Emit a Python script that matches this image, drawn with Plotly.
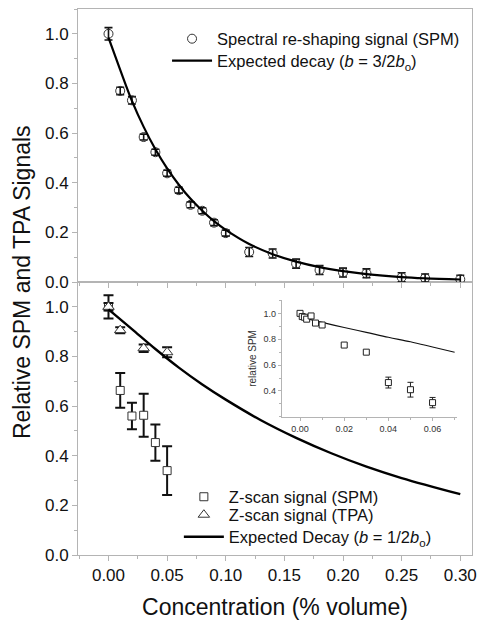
import plotly.graph_objects as go

# ---------------- data ----------------
# Top panel: spectral re-shaping signal (SPM)
x_spm = [0.00, 0.01, 0.02, 0.03, 0.04, 0.05, 0.06, 0.07, 0.08, 0.09, 0.10,
         0.12, 0.14, 0.16, 0.18, 0.20, 0.22, 0.25, 0.27, 0.30]
y_spm = [1.00, 0.77, 0.732, 0.584, 0.523, 0.438, 0.370, 0.311, 0.287, 0.239, 0.197,
         0.121, 0.115, 0.074, 0.048, 0.038, 0.035, 0.019, 0.016, 0.011]
e_spm = [0.025, 0.015, 0.015, 0.012, 0.012, 0.012, 0.012, 0.012, 0.012, 0.012, 0.012,
         0.018, 0.018, 0.018, 0.018, 0.018, 0.018, 0.018, 0.016, 0.016]

# Top panel: expected decay curve (b = 3/2 b_o)
x_fit_top = [0.00, 0.01, 0.02, 0.03, 0.04, 0.05, 0.06, 0.07, 0.08, 0.09, 0.10,
             0.12, 0.14, 0.16, 0.18, 0.20, 0.22, 0.25, 0.27, 0.30]
y_fit_top = [0.985, 0.855, 0.730, 0.625, 0.535, 0.458, 0.392, 0.335, 0.287, 0.245, 0.210,
             0.153, 0.112, 0.082, 0.060, 0.044, 0.032, 0.020, 0.015, 0.010]

# Bottom panel: Z-scan signal (SPM)
x_zs = [0.00, 0.01, 0.02, 0.03, 0.04, 0.05]
y_zs = [1.00, 0.663, 0.560, 0.563, 0.453, 0.340]
e_zs = [0.047, 0.070, 0.053, 0.087, 0.073, 0.098]

# Bottom panel: Z-scan signal (TPA)
x_zt = [0.00, 0.01, 0.03, 0.05]
y_zt = [1.00, 0.906, 0.833, 0.817]
e_zt = [0.015, 0.012, 0.015, 0.020]

# Bottom panel: expected decay (b = 1/2 b_o)
x_fit_bot = [0.00, 0.02, 0.04, 0.06, 0.08, 0.10, 0.13, 0.16, 0.19, 0.22, 0.25, 0.30]
y_fit_bot = [0.990, 0.910, 0.830, 0.755, 0.687, 0.626, 0.543, 0.472, 0.410, 0.356, 0.310, 0.245]

# Inset: relative SPM
x_in = [0.000, 0.001, 0.002, 0.003, 0.005, 0.007, 0.010, 0.020, 0.030, 0.040, 0.050, 0.060]
y_in = [1.000, 0.975, 0.970, 0.955, 0.980, 0.925, 0.910, 0.755, 0.700, 0.465, 0.410, 0.310]
e_in = [0.015, 0.012, 0.012, 0.012, 0.012, 0.012, 0.012, 0.012, 0.010, 0.042, 0.057, 0.040]
x_in_fit = [0.002, 0.01, 0.02, 0.03, 0.04, 0.05, 0.06, 0.07]
y_in_fit = [0.965, 0.930, 0.890, 0.853, 0.815, 0.780, 0.740, 0.700]

x_ticks = [0.00, 0.05, 0.10, 0.15, 0.20, 0.25, 0.30]
x_ticklabels = ["0.00", "0.05", "0.10", "0.15", "0.20", "0.25", "0.30"]
y_ticks = [0.0, 0.2, 0.4, 0.6, 0.8, 1.0]
y_ticklabels = ["0.0", "0.2", "0.4", "0.6", "0.8", "1.0"]
in_xticks = [0.00, 0.02, 0.04, 0.06]
in_xticklabels = ["0.00", "0.02", "0.04", "0.06"]
in_yticks = [0.4, 0.6, 0.8, 1.0]
in_yticklabels = ["0.4", "0.6", "0.8", "1.0"]

FONT = "Liberation Sans, Arial, Helvetica, sans-serif"
GRID = "#b4b4b4"
LEG_FONT = dict(family=FONT, size=16.5, color="#111111")

fig = go.Figure()

# ---- top panel
fig.add_trace(go.Scatter(
    x=x_spm, y=y_spm, mode="markers", xaxis="x2", yaxis="y2",
    name="Spectral re-shaping signal (SPM)", legend="legend",
    marker=dict(symbol="circle-open", size=9, color="#333333", line=dict(width=1)),
    error_y=dict(type="data", array=e_spm, color="#111111", thickness=1.6, width=4),
))
fig.add_trace(go.Scatter(
    x=x_fit_top, y=y_fit_top, mode="lines", xaxis="x2", yaxis="y2",
    name="Expected decay (<i>b</i> = 3/2<i>b</i><sub>o</sub>)", legend="legend2",
    line=dict(color="#000000", width=2.2, shape="spline"),
))

# ---- bottom panel
fig.add_trace(go.Scatter(
    x=x_zs, y=y_zs, mode="markers", xaxis="x", yaxis="y",
    name="Z-scan signal (SPM)", legend="legend3",
    marker=dict(symbol="square", size=8, color="white", line=dict(width=1, color="#333333")),
    error_y=dict(type="data", array=e_zs, color="#111111", thickness=2, width=5),
))
fig.add_trace(go.Scatter(
    x=x_zt, y=y_zt, mode="markers", xaxis="x", yaxis="y",
    name="Z-scan signal (TPA)", legend="legend4",
    marker=dict(symbol="triangle-up", size=10, color="white", line=dict(width=1, color="#333333")),
    error_y=dict(type="data", array=e_zt, color="#111111", thickness=2, width=5),
))
fig.add_trace(go.Scatter(
    x=x_fit_bot, y=y_fit_bot, mode="lines", xaxis="x", yaxis="y",
    name="Expected Decay (<i>b</i> = 1/2<i>b</i><sub>o</sub>)", legend="legend5",
    line=dict(color="#000000", width=2.4, shape="spline"),
))

# ---- inset
fig.add_trace(go.Scatter(
    x=x_in_fit, y=y_in_fit, mode="lines", xaxis="x3", yaxis="y3", showlegend=False,
    line=dict(color="#111111", width=1.1, shape="spline"),
))
fig.add_trace(go.Scatter(
    x=x_in, y=y_in, mode="markers", xaxis="x3", yaxis="y3", showlegend=False,
    marker=dict(symbol="square", size=6, color="white", line=dict(width=1, color="#222222")),
    error_y=dict(type="data", array=e_in, color="#222222", thickness=1, width=3),
))

tickfont = dict(family=FONT, size=17, color="#111111")
common_x = dict(range=[-0.026, 0.31], tickvals=x_ticks, ticktext=x_ticklabels,
                showline=True, mirror=True, linecolor=GRID, linewidth=1,
                ticks="outside", ticklen=5, tickcolor=GRID, tickwidth=1,
                minor=dict(dtick=0.025, ticks="outside", ticklen=3, tickcolor=GRID, tick0=0),
                showgrid=False, zeroline=False, tickfont=tickfont, automargin=False)
common_y = dict(range=[0, 1.1], tickvals=y_ticks, ticktext=y_ticklabels,
                showline=True, mirror=True, linecolor=GRID, linewidth=1,
                ticks="outside", ticklen=5, tickcolor=GRID, tickwidth=1,
                minor=dict(dtick=0.1, ticks="outside", ticklen=3, tickcolor=GRID, tick0=0),
                showgrid=False, zeroline=False, tickfont=tickfont, automargin=False)

in_font = dict(family=FONT, size=9, color="#333333")


def leg(x, y):
    return dict(x=x, y=y, xanchor="left", yanchor="middle", bgcolor="rgba(0,0,0,0)",
                font=LEG_FONT, itemwidth=40, tracegroupgap=0)


# the page body adds an 8 px offset, so the figure is 8 px smaller
fig.update_layout(
    width=482, height=619, autosize=False,
    margin=dict(l=70, r=18, t=1, b=72),
    paper_bgcolor="white", plot_bgcolor="white",
    font=dict(family=FONT, color="#111111"),
    xaxis=dict(domain=[0, 1], anchor="y",
               title=dict(text="Concentration (% volume)", font=dict(family=FONT, size=23, color="#111111"),
                          standoff=14),
               **common_x),
    xaxis2=dict(domain=[0, 1], anchor="y2", matches="x", showticklabels=False, **common_x),
    yaxis=dict(domain=[0, 0.5], anchor="x", **common_y),
    yaxis2=dict(domain=[0.5, 1], anchor="x2", **common_y),
    xaxis3=dict(domain=[0.517, 0.961], anchor="y3", range=[-0.0083, 0.0709],
                tickvals=in_xticks, ticktext=in_xticklabels, showline=True, mirror=False,
                linecolor=GRID, linewidth=1, ticks="outside", ticklen=3, tickcolor=GRID,
                minor=dict(dtick=0.01, ticks="outside", ticklen=2, tickcolor=GRID),
                showgrid=False, zeroline=False, tickfont=in_font, automargin=False),
    yaxis3=dict(domain=[0.253, 0.467], anchor="x3", range=[0.2, 1.103],
                tickvals=in_yticks, ticktext=in_yticklabels, showline=True, mirror=False,
                linecolor=GRID, linewidth=1, ticks="outside", ticklen=3, tickcolor=GRID,
                minor=dict(dtick=0.1, ticks="outside", ticklen=2, tickcolor=GRID),
                showgrid=False, zeroline=False, tickfont=in_font, automargin=False,
                title=dict(text="relative SPM", font=dict(family=FONT, size=10, color="#333333"),
                           standoff=4)),
    legend=leg(0.226, 0.9451),
    legend2=leg(0.226, 0.9048),
    legend3=leg(0.256, 0.1062),
    legend4=leg(0.256, 0.0733),
    legend5=leg(0.256, 0.0330),
    annotations=[dict(text="Relative SPM and TPA Signals", xref="paper", yref="paper",
                      x=-0.142, y=0.5, xanchor="center", yanchor="middle", textangle=-90,
                      showarrow=False, font=dict(family=FONT, size=23, color="#111111"))],
)

fig.write_html("out.html")
